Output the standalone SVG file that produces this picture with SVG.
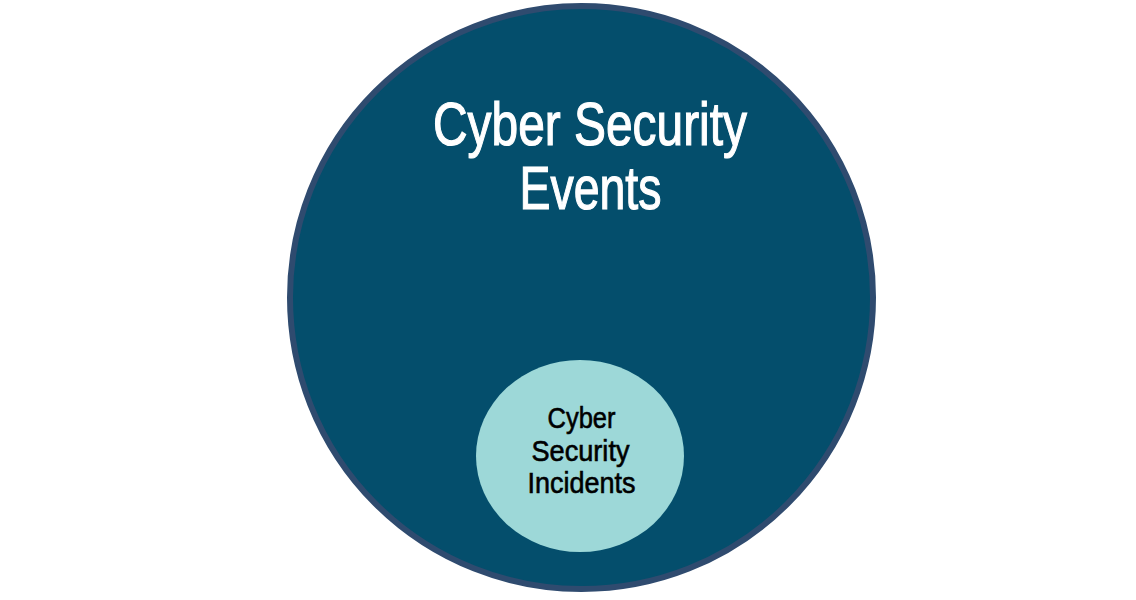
<svg xmlns="http://www.w3.org/2000/svg" width="1136" height="600" viewBox="0 0 1136 600">
<style>
.big{font-family:"Liberation Sans",Arial,sans-serif;font-size:61px;fill:#ffffff;stroke:#ffffff;stroke-width:1.2;text-anchor:middle}
.small{font-family:"Liberation Sans",Arial,sans-serif;font-size:29px;fill:#000000;stroke:#000000;stroke-width:0.6;text-anchor:middle}
</style>
<rect width="1136" height="600" fill="#ffffff"/>
<g id="events">
<circle cx="581.5" cy="297.5" r="291.5" fill="#044e6c" stroke="#2f4b6f" stroke-width="6"/>
<text class="big" x="590" y="145" textLength="314" lengthAdjust="spacingAndGlyphs">Cyber Security</text>
<text class="big" x="590.5" y="209" textLength="142" lengthAdjust="spacingAndGlyphs">Events</text>
</g>
<g id="incidents">
<ellipse cx="580" cy="456" rx="104" ry="96" fill="#9dd8d8"/>
<text class="small" x="581.5" y="428" textLength="68" lengthAdjust="spacingAndGlyphs">Cyber</text>
<text class="small" x="580.5" y="461" textLength="98" lengthAdjust="spacingAndGlyphs">Security</text>
<text class="small" x="581.5" y="493" textLength="108" lengthAdjust="spacingAndGlyphs">Incidents</text>
</g>
<g id="connectors"/>
</svg>
